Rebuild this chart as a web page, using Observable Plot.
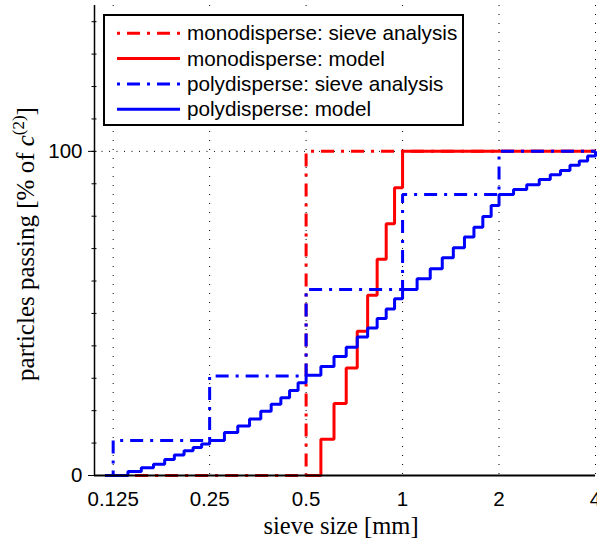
<!DOCTYPE html>
<html>
<head>
<meta charset="utf-8">
<script src="https://cdn.jsdelivr.net/npm/d3@7"></script>
<script src="https://cdn.jsdelivr.net/npm/@observablehq/plot@0.6"></script>
<style>
  html, body { margin: 0; padding: 0; background: white; }
</style>
</head>
<body>
<div id="chart"></div>
<script>
// ---- data ----
const seriesNames = [
  "monodisperse: sieve analysis",
  "monodisperse: model",
  "polydisperse: sieve analysis",
  "polydisperse: model"
];
const seriesColors = ["#ff0000", "#ff0000", "#0000ff", "#0000ff"];
const seriesDashed = [true, false, true, false];

const monoSieveSize = [0.118, 0.5, 4];
const monoSievePassing = [0, 100, 100];

const monoModelSize = [0.5, 0.556, 0.611, 0.667, 0.722, 0.778, 0.833, 0.889, 0.944, 1, 4];
const monoModelPassing = [0, 11.2, 22.2, 33.2, 44.5, 55.6, 66.7, 77.7, 88.8, 100, 100];

const polySieveSize = [0.118, 0.125, 0.25, 0.5, 1, 2, 4];
const polySievePassing = [0, 10.8, 30.7, 57.4, 86.7, 100, 100];

const polyModelSize = [
  0.118, 0.139, 0.153, 0.167, 0.181, 0.194, 0.208, 0.222, 0.236,
  0.25, 0.278, 0.306, 0.333, 0.361, 0.389, 0.417, 0.444, 0.472,
  0.5, 0.556, 0.611, 0.667, 0.722, 0.778, 0.833, 0.889, 0.944,
  1, 1.11, 1.22, 1.33, 1.44, 1.56, 1.67, 1.78, 1.89,
  2, 2.22, 2.44, 2.67, 2.89, 3.11, 3.33, 3.56, 3.78,
  4
];
const polyModelPassing = [
  0, 1.2, 2.4, 3.5, 4.9, 6.3, 7.6, 8.6, 9.7,
  10.8, 13.3, 15.3, 17.4, 19.8, 22.0, 24.0, 26.2, 28.6,
  30.9, 33.6, 36.7, 39.6, 42.7, 45.5, 48.4, 51.4, 54.5,
  57.4, 60.7, 63.8, 67.2, 70.3, 73.6, 76.6, 79.9, 83.3,
  86.7, 88.2, 89.7, 91.3, 92.8, 94.1, 95.7, 97.0, 98.6,
  100
];

const xTicks = [0.125, 0.25, 0.5, 1, 2, 4];
const xTickLabels = ["0.125", "0.25", "0.5", "1", "2", "4"];
const yTicks = [0, 100];
const yMinorTicks = [0, 10, 20, 30, 40, 50, 60, 70, 80, 90, 100, 110, 120, 130, 140];
const xDomain = [0.1093, 4];
const yDomain = [0, 145];

const xLabel = "sieve size [mm]";
const yLabelParts = ["particles passing [% of ", "c", "(2)", "]"];

// ---- build tables ----
const toRows = (sizes, vals) => sizes.map((s, i) => ({size: s, passing: vals[i]}));
const monoSieve = toRows(monoSieveSize, monoSievePassing);
const monoModel = toRows(monoModelSize, monoModelPassing);
const polySieve = toRows(polySieveSize, polySievePassing);
const polyModel = toRows(polyModelSize, polyModelPassing);
const tables = [monoSieve, monoModel, polySieve, polyModel];

const dashDot = "13,7,3,7";

const lineMarks = tables.map((t, i) => Plot.line(t, {
  x: "size", y: "passing", curve: "step-after",
  stroke: seriesColors[i], strokeWidth: 3,
  strokeDasharray: seriesDashed[i] ? dashDot : null,
  strokeLinejoin: "miter", strokeLinecap: "butt"
}));

const plot = Plot.plot({
  width: 597,
  height: 542,
  marginLeft: 94,
  marginRight: 2,
  marginTop: 5,
  marginBottom: 67,
  style: {fontFamily: "'Liberation Sans', Arial, sans-serif", fontSize: "20px", background: "white", overflow: "visible"},
  x: {type: "log", base: 2, domain: xDomain},
  y: {domain: yDomain},
  marks: [
    Plot.gridX({ticks: xTicks, stroke: "#000", strokeOpacity: 1, strokeWidth: 1, strokeDasharray: "1,8"}),
    Plot.gridY({ticks: [100], stroke: "#000", strokeOpacity: 1, strokeWidth: 1, strokeDasharray: "1,6.5"}),
    Plot.axisX({ticks: xTicks, tickFormat: d => xTickLabels[xTicks.indexOf(d)], tickSize: 0, tickPadding: 16, fontSize: 20.5, label: null, fill: "#000"}),
    Plot.axisY({ticks: yMinorTicks, tickFormat: () => "", tickSize: 5, dx: 2.5, label: null, stroke: "#000"}),
    Plot.axisY({ticks: yTicks, tickSize: 6, tickPadding: 6, fontSize: 20.5, label: null, fill: "#000", stroke: "#000"}),
    ...lineMarks,
    Plot.ruleX([xDomain[0]], {stroke: "#000", strokeWidth: 1.5}),
    Plot.ruleY([0], {stroke: "#000", strokeWidth: 2})
  ]
});

document.getElementById("chart").appendChild(plot);

// ---- axis labels ----
const svg = d3.select(plot);
svg.append("text")
  .attr("x", 341).attr("y", 534)
  .attr("text-anchor", "middle")
  .attr("font-family", "'Liberation Serif', 'Times New Roman', serif")
  .attr("font-size", 24.5)
  .attr("fill", "#000")
  .text(xLabel);

const yl = svg.append("text")
  .attr("transform", "translate(34,244) rotate(-90)")
  .attr("text-anchor", "middle")
  .attr("font-family", "'Liberation Serif', 'Times New Roman', serif")
  .attr("font-size", 25)
  .attr("fill", "#000");
yl.append("tspan").text(yLabelParts[0]);
yl.append("tspan").attr("font-style", "italic").text(yLabelParts[1]);
yl.append("tspan").attr("font-size", 17).attr("dy", -10).text(yLabelParts[2]);
yl.append("tspan").attr("dy", 10).text(yLabelParts[3]);

// ---- legend ----
const lg = svg.append("g");
lg.append("rect")
  .attr("x", 104).attr("y", 15).attr("width", 359).attr("height", 110)
  .attr("fill", "white").attr("stroke", "#000").attr("stroke-width", 2);
const rowY = [33.3, 58.6, 84, 109.3];
seriesNames.forEach((name, i) => {
  lg.append("line")
    .attr("x1", 117).attr("x2", 180).attr("y1", rowY[i]).attr("y2", rowY[i])
    .attr("stroke", seriesColors[i]).attr("stroke-width", 3)
    .attr("stroke-dasharray", seriesDashed[i] ? dashDot : null)
    .attr("stroke-dashoffset", seriesDashed[i] ? 20 : null);
  lg.append("text")
    .attr("x", 187).attr("y", rowY[i] + 7)
    .attr("text-anchor", "start")
    .attr("font-family", "'Liberation Sans', Arial, sans-serif")
    .attr("font-size", 20.7)
    .attr("fill", "#000")
    .text(name);
});
</script>
</body>
</html>
